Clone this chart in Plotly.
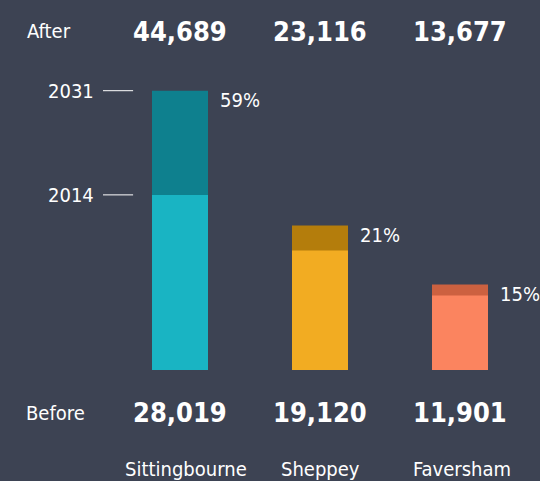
import plotly.graph_objects as go

towns = ["Sittingbourne", "Sheppey", "Faversham"]
before = [28019, 19120, 11901]
after = [44689, 23116, 13677]
years = ["2014", "2031"]
light_colors = ["#19b4c3", "#f2ac22", "#fb845f"]
dark_colors = ["#0e808e", "#b47d0c", "#cc6140"]

BG = "#3d4353"
FONT = "DejaVu Sans Condensed, Liberation Sans Narrow, sans-serif"

fig = go.Figure()
fig.add_trace(go.Bar(x=towns, y=after, marker=dict(color=dark_colors, line_width=0),
                     width=0.4, hoverinfo="skip"))
fig.add_trace(go.Bar(x=towns, y=before, marker=dict(color=light_colors, line_width=0),
                     width=0.4, hoverinfo="skip"))


def paper_y(px):
    return (370 - px) / 370.0


ann = []
ann.append(dict(text="After", xref="paper", x=25 / 540, xanchor="left",
                yref="paper", y=paper_y(31), yanchor="middle", showarrow=False,
                font=dict(size=20, color="white", family=FONT)))
ann.append(dict(text="Before", xref="paper", x=24 / 540, xanchor="left",
                yref="paper", y=paper_y(413), yanchor="middle", showarrow=False,
                font=dict(size=20, color="white", family=FONT)))
label_shift = [6, 0, 2]
for i, t in enumerate(towns):
    ann.append(dict(text="<b>{:,}</b>".format(after[i]), xref="x", x=t, xanchor="center",
                    yref="paper", y=paper_y(31), yanchor="middle", showarrow=False,
                    font=dict(size=27, color="white", family=FONT)))
    ann.append(dict(text="<b>{:,}</b>".format(before[i]), xref="x", x=t, xanchor="center",
                    yref="paper", y=paper_y(412), yanchor="middle", showarrow=False,
                    font=dict(size=27, color="white", family=FONT)))
    ann.append(dict(text=t, xref="x", x=t, xanchor="center", xshift=label_shift[i],
                    yref="paper", y=paper_y(469), yanchor="middle", showarrow=False,
                    font=dict(size=20, color="white", family=FONT)))
    pct = round((after[i] - before[i]) / before[i] * 100)
    ann.append(dict(text="{}%".format(pct), xref="x", x=i + 0.27, xanchor="left",
                    yref="y", y=after[i], yanchor="top", yshift=5, showarrow=False,
                    font=dict(size=20, color="white", family=FONT)))

shapes = []
for yr, val in zip(years, [before[0], after[0]]):
    shapes.append(dict(type="line", xref="x", x0=-0.55, x1=-0.335, yref="y", y0=val, y1=val,
                       line=dict(color="white", width=1)))
    ann.append(dict(text=yr, xref="x", x=-0.6, xanchor="right",
                    yref="y", y=val, yanchor="middle", showarrow=False,
                    font=dict(size=20, color="white", family=FONT)))

fig.update_layout(
    width=540, height=481,
    margin=dict(l=0, r=0, t=0, b=111),
    paper_bgcolor=BG, plot_bgcolor=BG,
    barmode="overlay", showlegend=False,
    xaxis=dict(visible=False, range=[-180 / 140, 360 / 140]),
    yaxis=dict(visible=False, range=[0, 370 / 0.00625]),
    annotations=ann, shapes=shapes,
)
fig.write_html("out.html", config={"displayModeBar": False},
               post_script="document.body.style.margin='0';document.body.style.background='#3d4353';")
